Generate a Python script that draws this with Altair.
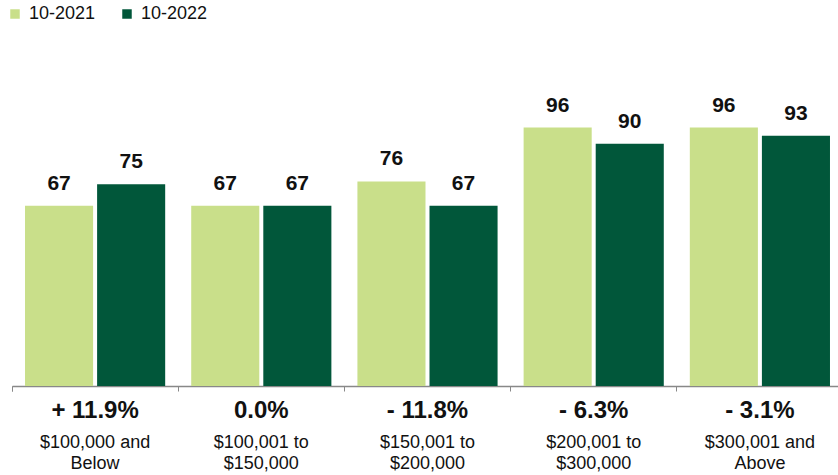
import altair as alt
import pandas as pd

# Median values by price band, two reporting periods
categories = [
    "$100,000 and Below",
    "$100,001 to $150,000",
    "$150,001 to $200,000",
    "$200,001 to $300,000",
    "$300,001 and Above",
]
category_lines = [
    ["$100,000 and", "Below"],
    ["$100,001 to", "$150,000"],
    ["$150,001 to", "$200,000"],
    ["$200,001 to", "$300,000"],
    ["$300,001 and", "Above"],
]
series = ["10-2021", "10-2022"]
values_2021 = [67, 67, 76, 96, 96]
values_2022 = [75, 67, 67, 90, 93]
pct_change = ["+ 11.9%", "0.0%", "- 11.8%", "- 6.3%", "- 3.1%"]

colors = ["#C9DF8A", "#01573A"]
FONT = "Liberation Sans"

rows = []
for cat, a, b in zip(categories, values_2021, values_2022):
    rows.append({"category": cat, "period": series[0], "value": a})
    rows.append({"category": cat, "period": series[1], "value": b})
bars_df = pd.DataFrame(rows)

labels_df = pd.DataFrame(
    {"category": categories, "pct": pct_change, "lines": category_lines}
)

W, H = 826, 323

x_enc = alt.X(
    "category:N",
    sort=categories,
    scale=alt.Scale(paddingInner=0, paddingOuter=0, range=[0, 831]),
    axis=alt.Axis(
        title=None,
        labels=False,
        bandPosition=0,
        tickExtra=True,
        ticks=True,
        tickSize=5,
        tickColor="#888888",
        domainColor="#888888",
        domainWidth=1.5,
        grid=False,
    ),
)
xoff_enc = alt.XOffset(
    "period:N",
    sort=series,
    scale=alt.Scale(paddingInner=0.0556, paddingOuter=0.1806),
)
y_enc = alt.Y(
    "value:Q",
    scale=alt.Scale(domain=[0, 120]),
    axis=None,
)

bars = alt.Chart(bars_df).mark_bar().encode(
    x=x_enc,
    xOffset=xoff_enc,
    y=y_enc,
    color=alt.Color(
        "period:N",
        sort=series,
        scale=alt.Scale(domain=series, range=colors),
        legend=alt.Legend(
            title=None,
            orient="none",
            legendX=-6,
            legendY=-58,
            direction="horizontal",
            symbolType="square",
            symbolSize=90,
            symbolStrokeWidth=0,
            labelFont=FONT,
            labelFontSize=18,
            labelColor="#111111",
            labelOffset=5,
            columnPadding=22,
        ),
    ),
)

value_text = alt.Chart(bars_df).mark_text(
    font=FONT, fontSize=21, fontWeight="bold", color="#111111",
    baseline="alphabetic", dy=-16,
).encode(
    x=alt.X("category:N", sort=categories),
    xOffset=alt.XOffset("period:N", sort=series),
    y=alt.Y("value:Q"),
    text=alt.Text("value:Q"),
)

pct_text = alt.Chart(labels_df).mark_text(
    font=FONT, fontSize=24, fontWeight="bold", color="#111111",
    baseline="alphabetic",
).encode(
    x=alt.X("category:N", sort=categories),
    y=alt.value(H + 32),
    text="pct:N",
)

cat_text = alt.Chart(labels_df).mark_text(
    font=FONT, fontSize=18, color="#111111",
    baseline="alphabetic", lineHeight=21,
).encode(
    x=alt.X("category:N", sort=categories),
    y=alt.value(H + 62),
    text="lines",
)

chart = (
    alt.layer(bars, value_text, pct_text, cat_text)
    .properties(
        width=W,
        height=H,
        padding={"left": 12, "top": 63, "right": 0, "bottom": 89},
        autosize=alt.AutoSizeParams(type="none"),
        background="white",
    )
    .configure_view(stroke=None)
)

chart.save("out.html", embed_options={"renderer": "svg", "actions": False})
